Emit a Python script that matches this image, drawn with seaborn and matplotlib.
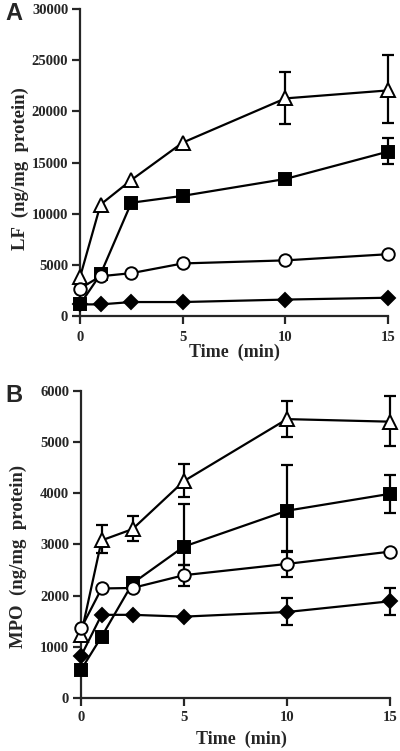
import numpy as np
import pandas as pd
import matplotlib
matplotlib.use("Agg")
import matplotlib.pyplot as plt
import seaborn as sns

sns.set_theme(style="ticks")
plt.rcParams['font.family'] = ['Liberation Serif', 'DejaVu Serif']
plt.rcParams['font.weight'] = 'bold'

time = [0, 1, 2.5, 5, 10, 15]

# Panel A: LF (ng/mg protein)
lf_triangle = [3800, 10900, 13300, 16950, 21270, 22050]
lf_square = [1150, 4100, 11080, 11750, 13400, 16070]
lf_circle = [2700, 3900, 4200, 5150, 5450, 6050]
lf_diamond = [1150, 1150, 1380, 1380, 1620, 1800]
# error bar bounds (lower, upper); NaN = no bar
lf_triangle_lo = [np.nan, np.nan, np.nan, np.nan, 18780, 18830]
lf_triangle_hi = [np.nan, np.nan, np.nan, np.nan, 23850, 25550]
lf_square_lo = [np.nan, np.nan, np.nan, np.nan, np.nan, 14850]
lf_square_hi = [np.nan, np.nan, np.nan, np.nan, np.nan, 17450]

# Panel B: MPO (ng/mg protein)
mpo_triangle = [1235, 3080, 3300, 4240, 5450, 5400]
mpo_square = [550, 1200, 2240, 2960, 3660, 3990]
mpo_circle = [1360, 2140, 2150, 2400, 2620, 2860]
mpo_diamond = [820, 1625, 1625, 1590, 1680, 1890]
mpo_triangle_lo = [np.nan, 2830, 3075, 3935, 5100, 4930]
mpo_triangle_hi = [np.nan, 3380, 3550, 4570, 5800, 5900]
mpo_square_lo = [np.nan, np.nan, np.nan, 2600, 2860, 3620]
mpo_square_hi = [np.nan, np.nan, np.nan, 3790, 4550, 4350]
mpo_circle_lo = [np.nan, np.nan, np.nan, 2190, 2360, np.nan]
mpo_circle_hi = [np.nan, np.nan, np.nan, 2600, 2880, np.nan]
mpo_diamond_lo = [np.nan, np.nan, np.nan, np.nan, 1430, 1625]
mpo_diamond_hi = [np.nan, np.nan, np.nan, np.nan, 1950, 2145]

styles = {
    'triangle': dict(marker='^', mfc='white', ms=10.5),
    'square': dict(marker='s', mfc='black', ms=9),
    'circle': dict(marker='o', mfc='white', ms=9),
    'diamond': dict(marker='D', mfc='black', ms=7.5),
}

fig = plt.figure(figsize=(4.0, 7.51), dpi=100)
axA = fig.add_axes([0.2, 0.579, 0.77, 0.409])
axB = fig.add_axes([0.2025, 0.0706, 0.7725, 0.4088])


def draw(ax, series, errs, ymax, ystep, ylabel, xpad):
    for name, vals in series.items():
        st = styles[name]
        df = pd.DataFrame({'t': time, 'v': vals})
        if name in errs:
            lo, hi = errs[name]
            lo = np.array(lo, float); hi = np.array(hi, float); v = np.array(vals, float)
            m = ~np.isnan(lo)
            ax.errorbar(np.array(time)[m], v[m], yerr=[v[m] - lo[m], hi[m] - v[m]],
                        fmt='none', ecolor='black', elinewidth=1.6, capsize=4,
                        capthick=1.6, zorder=2, clip_on=False)
        sns.lineplot(data=df, x='t', y='v', ax=ax, color='black', linewidth=1.6,
                     marker=st['marker'], markerfacecolor=st['mfc'],
                     markeredgecolor='black', markeredgewidth=1.4,
                     markersize=st['ms'], zorder=3, clip_on=False)
    ax.set_xlim(0, 15)
    ax.set_ylim(0, ymax)
    ax.set_xticks([0, 5, 10, 15])
    ax.set_yticks(np.arange(0, ymax + 1, ystep))
    ax.spines['top'].set_visible(False)
    ax.spines['right'].set_visible(False)
    for s in ['left', 'bottom']:
        ax.spines[s].set_linewidth(1.6)
    ax.tick_params(direction='out', length=5.5, width=1.6, labelsize=10.5)
    ax.tick_params(axis='y', pad=3)
    ax.tick_params(axis='x', pad=xpad)
    for lab in ax.get_xticklabels() + ax.get_yticklabels():
        lab.set_fontweight('bold')
    ax.set_xlabel('Time  (min)', fontsize=13, fontweight='bold')
    ax.set_ylabel(ylabel, fontsize=13.5, fontweight='bold')


draw(axA,
     {'triangle': lf_triangle, 'square': lf_square, 'circle': lf_circle, 'diamond': lf_diamond},
     {'triangle': (lf_triangle_lo, lf_triangle_hi), 'square': (lf_square_lo, lf_square_hi)},
     30000, 5000, 'LF  (ng/mg  protein)', 5.5)
draw(axB,
     {'triangle': mpo_triangle, 'square': mpo_square, 'circle': mpo_circle, 'diamond': mpo_diamond},
     {'triangle': (mpo_triangle_lo, mpo_triangle_hi), 'square': (mpo_square_lo, mpo_square_hi),
      'circle': (mpo_circle_lo, mpo_circle_hi), 'diamond': (mpo_diamond_lo, mpo_diamond_hi)},
     6000, 1000, 'MPO  (ng/mg  protein)', 4)

axA.yaxis.set_label_coords(-0.165, 0.48)
axA.xaxis.set_label_coords(0.5, -0.09)
axB.yaxis.set_label_coords(-0.175, 0.46)
axB.xaxis.set_label_coords(0.52, -0.108)

fig.text(14 / 400, 1 - 13 / 751, 'A', family='Liberation Sans', fontweight='bold',
         fontsize=17, ha='center', va='center')
fig.text(14 / 400, 1 - 395 / 751, 'B', family='Liberation Sans', fontweight='bold',
         fontsize=17, ha='center', va='center')

fig.savefig('out.png', dpi=100)
